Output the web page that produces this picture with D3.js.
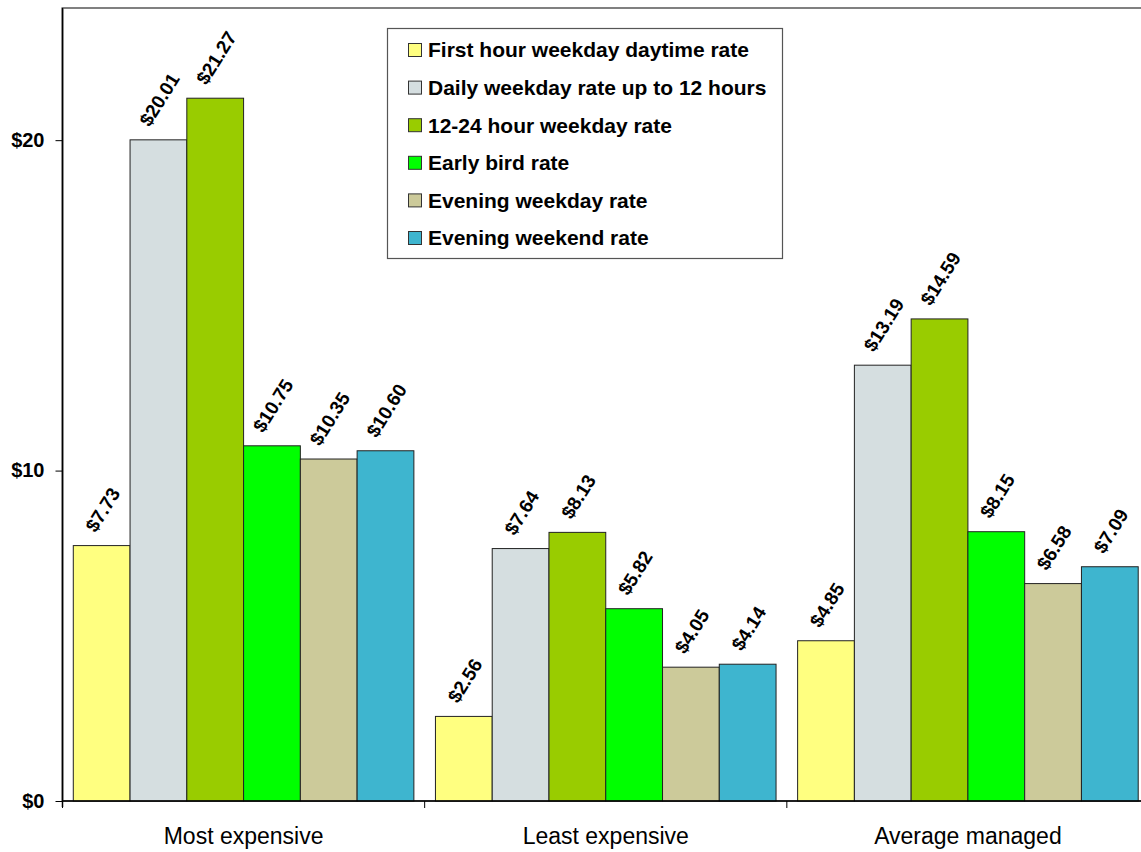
<!DOCTYPE html>
<html><head><meta charset="utf-8">
<script src="https://cdn.jsdelivr.net/npm/d3@7"></script>
<style>body{margin:0;background:#fff}svg{display:block}</style>
</head><body>
<svg id="c" width="1141" height="852"></svg>
<script>
const categories = ["Most expensive", "Least expensive", "Average managed"];
const seriesNames = ["First hour weekday daytime rate", "Daily weekday rate up to 12 hours", "12-24 hour weekday rate", "Early bird rate", "Evening weekday rate", "Evening weekend rate"];
const firstHour = [7.73, 2.56, 4.85];
const dailyUpTo12 = [20.01, 7.64, 13.19];
const hour12to24 = [21.27, 8.13, 14.59];
const earlyBird = [10.75, 5.82, 8.15];
const eveningWeekday = [10.35, 4.05, 6.58];
const eveningWeekend = [10.60, 4.14, 7.09];
const yTicks = [0, 10, 20];
const yTickLabels = ["$0", "$10", "$20"];
const colors = ["#FFFF80", "#D5DEE0", "#99CC00", "#00FF00", "#CCCA9A", "#3EB5CF"];

(function () {
const seriesValues = [firstHour, dailyUpTo12, hour12to24, earlyBird, eveningWeekday, eveningWeekend];
const svg = d3.select("#c");
const pLeft = 62.5, pRight = 1149, pTop = 8, pBottom = 801;
const FONT = "Liberation Sans, Arial, sans-serif";

const x0 = d3.scaleBand().domain(categories).range([pLeft, pRight]).padding(0);
const x1 = d3.scaleBand().domain(seriesNames).range([0, x0.bandwidth()]).paddingInner(0).paddingOuter(0.19);
const y = d3.scaleLinear().domain([0, 24]).range([pBottom, pTop]);
const color = d3.scaleOrdinal().domain(seriesNames).range(colors);

// plot frame
svg.append("rect").attr("x", pLeft).attr("y", pTop).attr("width", pRight - pLeft).attr("height", pBottom - pTop)
  .attr("fill", "none").attr("stroke", "#808080").attr("stroke-width", 2);

// bars
const data = [];
categories.forEach((c, ci) => seriesNames.forEach((s, si) => data.push({c, s, v: seriesValues[si][ci]})));

svg.append("g").selectAll("rect").data(data).join("rect")
  .attr("x", d => x0(d.c) + x1(d.s))
  .attr("y", d => y(d.v))
  .attr("width", x1.bandwidth())
  .attr("height", d => y(0) - y(d.v))
  .attr("fill", d => color(d.s))
  .attr("stroke", "#222").attr("stroke-width", 1);

// value labels
const fs = 19, ang = 58, rad = ang * Math.PI / 180, capH = 0.72 * fs;
svg.append("g").selectAll("text").data(data).join("text")
  .attr("font-family", FONT)
  .attr("font-weight", "bold").attr("font-size", fs).attr("fill", "#000")
  .attr("text-anchor", "middle").attr("dy", "0.35em")
  .text(d => "$" + d.v.toFixed(2))
  .attr("transform", function (d) {
    const w = this.getComputedTextLength();
    const half = (w * Math.sin(rad) + capH * Math.cos(rad)) / 2;
    const cx = x0(d.c) + x1(d.s) + x1.bandwidth() / 2 + 1;
    return `translate(${cx},${y(d.v) - 12 - half}) rotate(${-ang})`;
  });

// y axis
const yAxis = d3.axisLeft(y).tickValues(yTicks).tickFormat((d, i) => yTickLabels[i]).tickSize(7).tickPadding(11);
const gy = svg.append("g").attr("transform", `translate(${pLeft},0)`).call(yAxis);
gy.select(".domain").attr("stroke", "#000").attr("stroke-width", 1.5).attr("d", `M0,${pTop}V${pBottom + 6}`);
gy.selectAll(".tick line").attr("stroke", "#000");
gy.selectAll(".tick text").attr("font-family", FONT)
  .attr("font-weight", "bold").attr("font-size", 20).attr("fill", "#000");

// x axis
const xAxis = d3.axisBottom(x0).tickSize(0).tickPadding(27);
const gx = svg.append("g").attr("transform", `translate(0,${pBottom})`).call(xAxis);
gx.select(".domain").attr("stroke", "#000").attr("stroke-width", 1.5).attr("d", `M${pLeft},0H${pRight}`);
gx.selectAll(".tick text").attr("font-family", FONT)
  .attr("font-size", 23).attr("fill", "#000");
const bounds = categories.map(c => x0(c)).concat([x0(categories[categories.length - 1]) + x0.bandwidth()]);
gx.append("g").selectAll("line").data(bounds).join("line")
  .attr("x1", d => d).attr("x2", d => d).attr("y1", 0).attr("y2", 7).attr("stroke", "#000");

// legend
const lg = svg.append("g");
lg.append("rect").attr("x", 387.5).attr("y", 28.5).attr("width", 395).attr("height", 230)
  .attr("fill", "#fff").attr("stroke", "#555").attr("stroke-width", 1.2);
const ly = d3.scalePoint().domain(seriesNames).range([50, 238]);
const items = lg.selectAll("g.item").data(seriesNames).join("g").attr("class", "item")
  .attr("transform", d => `translate(0,${ly(d)})`);
items.append("rect").attr("x", 408.5).attr("y", -6.5).attr("width", 13).attr("height", 13)
  .attr("fill", d => color(d)).attr("stroke", "#333").attr("stroke-width", 1);
items.append("text").attr("x", 428).attr("y", 0).attr("dy", "0.35em")
  .attr("font-family", FONT)
  .attr("font-weight", "bold").attr("font-size", 21).attr("fill", "#000")
  .text(d => d);
})();
</script>
</body></html>
